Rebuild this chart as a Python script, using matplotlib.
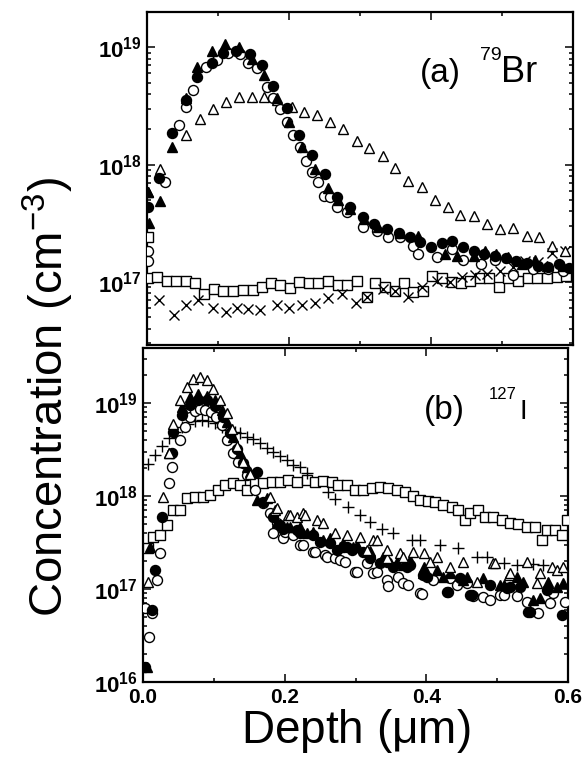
import numpy as np
import matplotlib
matplotlib.use("Agg")
import matplotlib.pyplot as plt
from matplotlib.ticker import FixedLocator, LogLocator, NullFormatter

plt.rcParams['font.family'] = ['Liberation Sans', 'DejaVu Sans']
plt.rcParams['mathtext.fontset'] = 'custom'
plt.rcParams['mathtext.rm'] = 'Liberation Sans'
plt.rcParams['mathtext.it'] = 'Liberation Sans:italic'
plt.rcParams['mathtext.bf'] = 'Liberation Sans:bold'

# ---------------- Panel (a): 79Br  (depth in um, log10 concentration) ----------------
a_fcirc_x = [0.002, 0.017, 0.035, 0.055, 0.070, 0.091, 0.107, 0.126, 0.145, 0.162, 0.178, 0.197,
             0.214, 0.232, 0.251, 0.268, 0.286, 0.304, 0.320, 0.338, 0.355, 0.370, 0.385, 0.400,
             0.415, 0.430, 0.445, 0.460, 0.475, 0.490, 0.505, 0.520, 0.535, 0.550, 0.565, 0.580, 0.595]
a_fcirc_y = [17.64, 17.89, 18.27, 18.55, 18.75, 18.87, 18.95, 18.97, 18.94, 18.85, 18.67, 18.48,
             18.25, 18.08, 17.92, 17.72, 17.64, 17.55, 17.49, 17.45, 17.42, 17.38, 17.34, 17.30,
             17.33, 17.35, 17.30, 17.26, 17.24, 17.22, 17.20, 17.18, 17.16, 17.14, 17.13, 17.15, 17.12]

a_ocirc_x = [0.001, 0.002, 0.025, 0.045, 0.055, 0.065, 0.083, 0.098, 0.114, 0.131, 0.142, 0.155,
             0.169, 0.177, 0.187, 0.197, 0.205, 0.215, 0.224, 0.232, 0.241, 0.249, 0.258, 0.268,
             0.282, 0.304, 0.324, 0.340, 0.356, 0.375, 0.382, 0.408, 0.430, 0.445, 0.470, 0.490,
             0.516, 0.544, 0.565, 0.586]
a_ocirc_y = [17.26, 17.18, 17.85, 18.34, 18.49, 18.64, 18.83, 18.89, 18.95, 18.94, 18.87, 18.82,
             18.66, 18.57, 18.47, 18.36, 18.25, 18.15, 18.03, 17.94, 17.85, 17.73, 17.72, 17.64,
             17.60, 17.47, 17.43, 17.38, 17.38, 17.31, 17.24, 17.21, 17.28, 17.19, 17.15, 17.19,
             17.06, 17.11, 17.11, 17.09]

a_ftri_x = [0.002, 0.003, 0.018, 0.035, 0.055, 0.070, 0.091, 0.110, 0.130, 0.148, 0.165, 0.183,
            0.200, 0.218, 0.237, 0.255, 0.269, 0.286, 0.305, 0.325, 0.356, 0.382, 0.420, 0.436,
            0.460, 0.476, 0.492, 0.509, 0.528, 0.547, 0.563, 0.586]
a_ftri_y = [17.77, 17.50, 17.69, 18.15, 18.57, 18.83, 18.97, 19.03, 19.00, 18.90, 18.76, 18.57,
            18.36, 18.15, 17.96, 17.80, 17.70, 17.62, 17.54, 17.47, 17.42, 17.39, 17.24, 17.22,
            17.22, 17.26, 17.24, 17.21, 17.15, 17.19, 17.14, 17.14]

a_otri_x = [0.002, 0.018, 0.055, 0.075, 0.093, 0.111, 0.130, 0.148, 0.165, 0.183, 0.204, 0.221,
            0.239, 0.258, 0.276, 0.296, 0.313, 0.332, 0.349, 0.368, 0.387, 0.406, 0.424, 0.441,
            0.460, 0.479, 0.497, 0.516, 0.535, 0.552, 0.570, 0.589]
a_otri_y = [17.77, 17.96, 18.25, 18.39, 18.47, 18.53, 18.58, 18.58, 18.58, 18.55, 18.49, 18.45,
            18.42, 18.36, 18.30, 18.20, 18.14, 18.07, 17.97, 17.86, 17.81, 17.70, 17.64, 17.57,
            17.56, 17.49, 17.45, 17.46, 17.39, 17.38, 17.31, 17.26]

a_sq_x = [0.001, 0.002, 0.014, 0.028, 0.041, 0.055, 0.068, 0.080, 0.094, 0.107, 0.121, 0.135,
          0.149, 0.162, 0.175, 0.187, 0.201, 0.214, 0.228, 0.241, 0.255, 0.269, 0.282, 0.296,
          0.310, 0.321, 0.335, 0.349, 0.362, 0.375, 0.389, 0.401, 0.415, 0.430, 0.442, 0.455,
          0.469, 0.482, 0.496, 0.508, 0.523, 0.537, 0.549, 0.563, 0.577, 0.590]
a_sq_y = [17.38, 17.03, 17.04, 17.01, 17.01, 17.01, 16.99, 16.90, 16.94, 16.92, 16.92, 16.93,
          16.93, 16.96, 16.99, 16.97, 16.95, 17.00, 16.99, 16.99, 17.01, 16.97, 16.97, 17.01,
          16.87, 16.99, 16.96, 16.92, 16.99, 16.91, 16.92, 17.05, 17.03, 17.00, 16.99, 17.01,
          17.03, 17.03, 16.96, 17.03, 17.01, 17.03, 17.03, 17.03, 17.04, 17.05]

a_x_x = [0.017, 0.038, 0.055, 0.072, 0.093, 0.111, 0.127, 0.142, 0.159, 0.183, 0.200, 0.218,
         0.237, 0.255, 0.275, 0.294, 0.310, 0.332, 0.349, 0.368, 0.387, 0.408, 0.427, 0.444,
         0.462, 0.479, 0.497, 0.516, 0.532, 0.551, 0.570, 0.589]
a_x_y = [16.85, 16.72, 16.80, 16.85, 16.78, 16.74, 16.78, 16.77, 16.76, 16.80, 16.78, 16.80,
         16.82, 16.86, 16.90, 16.82, 16.87, 16.94, 16.92, 16.87, 16.96, 17.01, 17.00, 17.04,
         17.06, 17.07, 17.09, 17.13, 17.18, 17.17, 17.25, 17.26]

# ---------------- Panel (b): 127I ----------------
b_otri_x = [0.007, 0.028, 0.036, 0.043, 0.052, 0.062, 0.070, 0.080, 0.090, 0.099, 0.109, 0.118,
            0.125, 0.132, 0.141, 0.151, 0.179, 0.186, 0.189, 0.205, 0.208, 0.217, 0.226, 0.229,
            0.245, 0.254, 0.271, 0.288, 0.306, 0.316, 0.325, 0.330, 0.344, 0.345, 0.363, 0.367,
            0.381, 0.396, 0.405, 0.415, 0.434, 0.452, 0.471, 0.494, 0.497, 0.516, 0.518, 0.542,
            0.556, 0.561, 0.578, 0.585, 0.593]
b_otri_y = [17.08, 17.99, 18.46, 18.77, 19.03, 19.17, 19.26, 19.28, 19.25, 19.15, 19.03, 18.89,
            18.72, 18.54, 18.37, 18.24, 17.99, 17.85, 17.87, 17.80, 17.80, 17.77, 17.82, 17.80,
            17.74, 17.71, 17.60, 17.58, 17.56, 17.42, 17.53, 17.53, 17.33, 17.42, 17.39, 17.34,
            17.40, 17.39, 17.29, 17.34, 17.24, 17.29, 17.08, 17.28, 17.28, 17.15, 17.17, 17.29,
            17.06, 17.17, 17.24, 17.20, 17.24]

b_ftri_x = [0.005, 0.010, 0.036, 0.055, 0.066, 0.078, 0.090, 0.102, 0.111, 0.119, 0.127, 0.137,
            0.147, 0.151, 0.161, 0.175, 0.189, 0.203, 0.208, 0.222, 0.232, 0.240, 0.254, 0.264,
            0.278, 0.282, 0.297, 0.302, 0.321, 0.339, 0.359, 0.367, 0.377, 0.395, 0.396, 0.415,
            0.424, 0.434, 0.452, 0.458, 0.480, 0.504, 0.509, 0.528, 0.537, 0.551, 0.561, 0.572,
            0.585, 0.593]
b_ftri_y = [16.16, 17.45, 18.46, 18.96, 19.06, 19.10, 19.08, 19.03, 18.92, 18.80, 18.63, 18.46,
            18.31, 18.26, 17.96, 17.98, 17.72, 17.67, 17.67, 17.67, 17.60, 17.61, 17.53, 17.55,
            17.45, 17.49, 17.45, 17.47, 17.41, 17.34, 17.29, 17.26, 17.31, 17.17, 17.24, 17.20,
            17.13, 17.17, 17.10, 17.13, 17.12, 17.04, 17.04, 17.13, 17.08, 16.88, 16.90, 17.08,
            17.02, 17.06]

b_fcirc_x = [0.003, 0.013, 0.017, 0.027, 0.041, 0.043, 0.055, 0.066, 0.078, 0.090, 0.102, 0.113,
             0.123, 0.132, 0.141, 0.161, 0.169, 0.184, 0.194, 0.198, 0.217, 0.222, 0.240, 0.250,
             0.264, 0.274, 0.288, 0.295, 0.311, 0.321, 0.335, 0.344, 0.353, 0.373, 0.377, 0.395,
             0.401, 0.429, 0.431, 0.448, 0.462, 0.465, 0.490, 0.514, 0.518, 0.532, 0.544, 0.547,
             0.571, 0.592]
b_fcirc_y = [16.16, 16.77, 17.20, 17.77, 18.46, 18.69, 18.87, 18.98, 19.03, 19.03, 18.97, 18.85,
             18.68, 18.50, 18.35, 18.26, 17.94, 17.77, 17.69, 17.65, 17.63, 17.60, 17.58, 17.51,
             17.49, 17.42, 17.45, 17.42, 17.40, 17.33, 17.28, 17.29, 17.24, 17.24, 17.26, 17.15,
             17.13, 16.97, 16.97, 17.12, 16.94, 16.94, 17.04, 17.01, 17.02, 17.02, 16.75, 16.75,
             16.99, 16.72]

b_ocirc_x = [0.003, 0.008, 0.013, 0.020, 0.024, 0.037, 0.041, 0.052, 0.059, 0.066, 0.073, 0.080,
             0.088, 0.096, 0.103, 0.111, 0.119, 0.127, 0.134, 0.147, 0.158, 0.169, 0.179, 0.184,
             0.189, 0.198, 0.200, 0.212, 0.222, 0.226, 0.240, 0.243, 0.257, 0.260, 0.271, 0.278,
             0.285, 0.299, 0.302, 0.316, 0.325, 0.330, 0.345, 0.346, 0.360, 0.367, 0.374, 0.391,
             0.394, 0.410, 0.434, 0.443, 0.458, 0.466, 0.480, 0.490, 0.504, 0.509, 0.528, 0.542,
             0.558, 0.575, 0.579, 0.596]
b_ocirc_y = [16.80, 16.48, 16.74, 17.10, 17.39, 18.14, 18.31, 18.60, 18.74, 18.85, 18.91, 18.94,
             18.92, 18.90, 18.85, 18.76, 18.60, 18.46, 18.37, 18.23, 18.06, 17.92, 17.82, 17.60,
             17.71, 17.55, 17.61, 17.58, 17.47, 17.47, 17.40, 17.40, 17.37, 17.34, 17.33, 17.31,
             17.29, 17.18, 17.18, 17.28, 17.17, 17.18, 17.10, 17.03, 17.13, 17.06, 17.04, 16.96,
             16.95, 17.10, 17.12, 17.04, 17.06, 16.92, 16.91, 16.88, 16.94, 16.94, 16.92, 16.86,
             16.74, 16.85, 16.96, 16.86]

b_plus_x = [0.007, 0.017, 0.027, 0.036, 0.045, 0.055, 0.064, 0.073, 0.083, 0.092, 0.102, 0.111,
            0.120, 0.130, 0.137, 0.147, 0.155, 0.165, 0.175, 0.184, 0.194, 0.203, 0.212, 0.222,
            0.232, 0.261, 0.271, 0.290, 0.306, 0.321, 0.337, 0.353, 0.380, 0.391, 0.419, 0.445,
            0.471, 0.485, 0.509, 0.528, 0.551, 0.565]
b_plus_y = [18.34, 18.44, 18.54, 18.62, 18.69, 18.74, 18.77, 18.81, 18.82, 18.81, 18.78, 18.74,
            18.71, 18.69, 18.68, 18.63, 18.61, 18.57, 18.52, 18.47, 18.43, 18.39, 18.33, 18.31,
            18.25, 18.04, 17.97, 17.88, 17.80, 17.72, 17.65, 17.60, 17.53, 17.53, 17.47, 17.44,
            17.34, 17.34, 17.28, 17.26, 17.27, 17.26]

b_sq_x = [0.007, 0.014, 0.024, 0.034, 0.043, 0.052, 0.062, 0.073, 0.085, 0.095, 0.106, 0.116,
          0.127, 0.137, 0.147, 0.158, 0.169, 0.182, 0.193, 0.205, 0.217, 0.231, 0.243, 0.254,
          0.267, 0.275, 0.288, 0.299, 0.311, 0.323, 0.335, 0.346, 0.359, 0.370, 0.381, 0.391,
          0.403, 0.412, 0.424, 0.436, 0.445, 0.455, 0.462, 0.473, 0.483, 0.494, 0.507, 0.518,
          0.530, 0.542, 0.554, 0.563, 0.571, 0.582, 0.592, 0.599]
b_sq_y = [17.44, 17.56, 17.58, 17.69, 17.85, 17.85, 17.98, 17.99, 17.99, 18.01, 18.06, 18.12,
          18.14, 18.12, 18.06, 18.14, 18.14, 18.15, 18.15, 18.17, 18.15, 18.17, 18.15, 18.16,
          18.15, 18.12, 18.12, 18.06, 18.06, 18.09, 18.10, 18.09, 18.06, 18.04, 18.00, 17.96,
          17.95, 17.94, 17.90, 17.88, 17.85, 17.74, 17.82, 17.85, 17.77, 17.77, 17.74, 17.71,
          17.70, 17.67, 17.67, 17.53, 17.63, 17.63, 17.58, 17.74]

x_ticks = [0.0, 0.2, 0.4, 0.6]
x_ticklabels = ['0.0', '0.2', '0.4', '0.6']
a_yticks = [1e17, 1e18, 1e19]
b_yticks = [1e16, 1e17, 1e18, 1e19]

W, H = 584, 757
fig = plt.figure(figsize=(W / 100, H / 100), dpi=100)

def px_axes(l, t, r, b):
    return fig.add_axes([l / W, 1 - b / H, (r - l) / W, (b - t) / H])

ax_a = px_axes(147, 12, 573, 345)
ax_b = px_axes(143, 348, 568, 682)

ms = 7.2
mew = 1.0

def series(ax, x, ly, marker, filled, size=ms, zo=3):
    y = 10 ** np.asarray(ly)
    if marker in ('x', '+'):
        ax.plot(x, y, linestyle='none', marker=marker, color='black',
                markersize=size, markeredgewidth=1.0, zorder=zo)
    else:
        ax.plot(x, y, linestyle='none', marker=marker,
                markerfacecolor='black' if filled else 'white',
                markeredgecolor='black', markersize=size, markeredgewidth=mew, zorder=zo)

# panel a
series(ax_a, a_sq_x, a_sq_y, 's', False, 6.8)
series(ax_a, a_x_x, a_x_y, 'x', False, 7.5)
series(ax_a, a_otri_x, a_otri_y, '^', False, 7.6)
series(ax_a, a_ocirc_x, a_ocirc_y, 'o', False)
series(ax_a, a_fcirc_x, a_fcirc_y, 'o', True)
series(ax_a, a_ftri_x, a_ftri_y, '^', True, 7.6)

# panel b
series(ax_b, b_sq_x, b_sq_y, 's', False, 6.8)
series(ax_b, b_plus_x, b_plus_y, '+', False, 8)
series(ax_b, b_ocirc_x, b_ocirc_y, 'o', False)
series(ax_b, b_fcirc_x, b_fcirc_y, 'o', True)
series(ax_b, b_ftri_x, b_ftri_y, '^', True, 7.6)
series(ax_b, b_otri_x, b_otri_y, '^', False, 7.6)

def style(ax, ylim, yticks, show_x):
    ax.set_yscale('log')
    ax.set_xlim(0, 0.6)
    ax.set_ylim(*ylim)
    ax.set_xticks(x_ticks)
    ax.xaxis.set_minor_locator(FixedLocator([0.1, 0.3, 0.5]))
    if show_x:
        ax.set_xticklabels(x_ticklabels, fontsize=15, fontweight='bold')
    else:
        ax.set_xticklabels([])
    ax.set_yticks(yticks)
    ax.set_yticklabels([r'$\mathbf{10^{%d}}$' % int(round(np.log10(v))) for v in yticks],
                       fontsize=16)
    ax.yaxis.set_minor_locator(LogLocator(base=10, subs=np.arange(2, 10), numticks=20))
    ax.yaxis.set_minor_formatter(NullFormatter())
    ax.tick_params(which='both', direction='in', top=True, right=True, width=1.1, colors='black')
    ax.tick_params(which='major', length=6, pad=4)
    ax.tick_params(which='minor', length=3)
    for s in ax.spines.values():
        s.set_linewidth(1.6)

style(ax_a, (2.9e16, 2.0e19), a_yticks, False)
style(ax_b, (1e16, 3.9e19), b_yticks, True)

# labels
fig.text(48 / W, 1 - 397 / H, r'Concentration (cm$^{-3}$)', rotation=90,
         ha='center', va='center', fontsize=34)
fig.text(356 / W, 1 - 731 / H, r'Depth ($\mathrm{\mu}$m)', ha='center', va='center', fontsize=33)

# panel annotations
fig.text(440 / W, 1 - 82 / H, '(a)', ha='center', va='baseline', fontsize=24)
fig.text(480 / W, 1 - 47 / H, '79', ha='left', va='top', fontsize=14)
fig.text(501 / W, 1 - 82 / H, 'Br', ha='left', va='baseline', fontsize=26)

fig.text(444 / W, 1 - 419 / H, '(b)', ha='center', va='baseline', fontsize=24)
fig.text(489 / W, 1 - 387 / H, '127', ha='left', va='top', fontsize=12)
fig.text(519 / W, 1 - 419 / H, 'I', ha='left', va='baseline', fontsize=20)

fig.savefig('out.png', dpi=100)
